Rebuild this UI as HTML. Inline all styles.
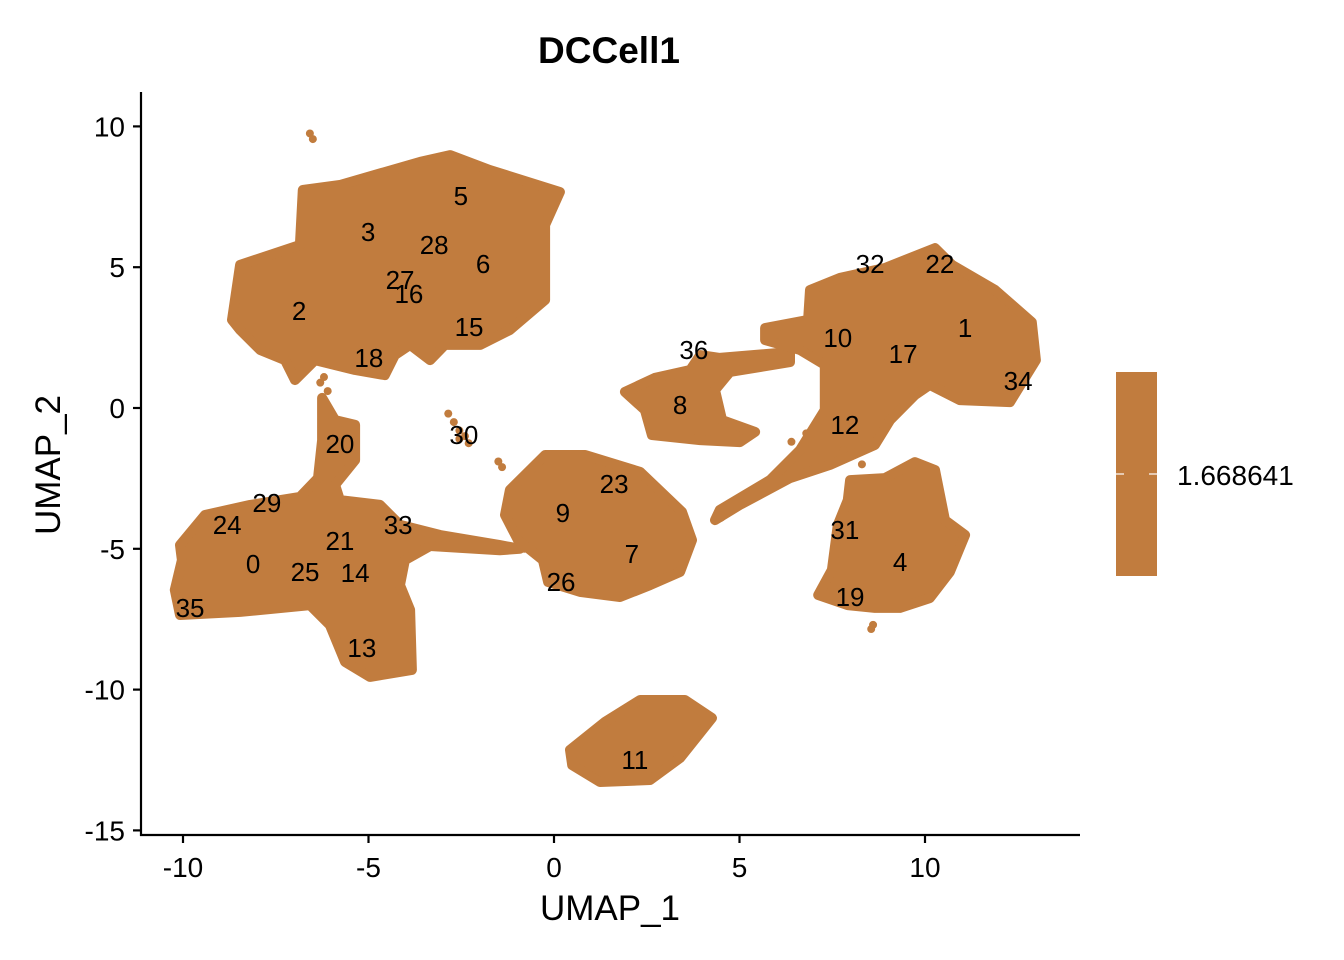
<!DOCTYPE html>
<html><head><meta charset="utf-8"><style>
html,body{margin:0;padding:0;background:#fff;width:1344px;height:960px;overflow:hidden}
svg{display:block;font-family:"Liberation Sans",Arial,sans-serif}
</style></head><body>
<svg id="chart" width="1344" height="960" viewBox="0 0 1344 960"></svg>
<script>
// ---- data ----
const xTicks = [-10, -5, 0, 5, 10];
const yTicks = [10, 5, 0, -5, -10, -15];
const clusterIds = ["5","3","28","6","27","16","2","15","18","20","30","29","24","21","33","0","25","14","35","13","23","9","7","26","11","36","8","32","22","1","10","17","34","12","31","4","19"];
const clusterX = [-2.51,-5.01,-3.23,-1.91,-4.15,-3.91,-6.87,-2.29,-4.99,-5.77,-2.43,-7.74,-8.81,-5.77,-4.20,-8.11,-6.71,-5.36,-9.81,-5.18,1.62,0.24,2.10,0.19,2.18,3.77,3.40,8.52,10.40,11.08,7.65,9.41,12.51,7.84,7.84,9.33,7.98];
const clusterY = [7.53,6.25,5.79,5.11,4.55,4.05,3.44,2.88,1.78,-1.28,-0.96,-3.37,-4.15,-4.72,-4.15,-5.54,-5.82,-5.86,-7.10,-8.52,-2.70,-3.73,-5.18,-6.18,-12.50,2.06,0.11,5.11,5.11,2.84,2.49,1.92,0.96,-0.60,-4.33,-5.47,-6.71];
// blob outlines (UMAP coordinates)
const blobTopLeftX = [-8.68,-8.46,-6.85,-6.77,-5.77,-3.61,-2.80,-1.73,0.16,-0.24,-0.24,-1.19,-1.99,-2.94,-3.34,-3.88,-4.29,-4.56,-5.36,-6.44,-6.98,-7.25,-7.92,-8.46];
const blobTopLeftY = [3.13,5.08,5.79,7.74,7.92,8.74,8.98,8.45,7.67,6.50,3.84,2.77,2.24,2.24,1.70,2.24,1.88,1.17,1.35,1.70,0.99,1.70,2.06,2.77];
const blobBottomLeftX = [-10.08,-9.41,-8.19,-6.85,-6.36,-6.25,-6.25,-5.90,-5.36,-5.36,-5.90,-5.77,-4.69,-4.15,-3.07,-1.46,-0.92,-1.46,-3.34,-4.02,-4.15,-3.88,-3.83,-4.96,-5.63,-6.04,-6.58,-8.46,-10.08,-10.22,-10.03];
const blobBottomLeftY = [-4.87,-3.80,-3.44,-3.16,-2.49,-1.14,0.36,-0.43,-0.60,-1.85,-2.73,-3.27,-3.44,-4.15,-4.51,-4.87,-5.00,-5.05,-4.90,-5.40,-6.29,-7.17,-9.30,-9.55,-9.02,-7.71,-7.00,-7.24,-7.35,-6.46,-5.40];
const blobCenterX = [-1.19,-0.24,0.84,2.32,3.45,3.72,3.40,2.59,1.78,0.70,-0.16,-0.30,-0.97,-1.32];
const blobCenterY = [-2.91,-1.67,-1.67,-2.27,-3.69,-4.69,-5.82,-6.29,-6.71,-6.53,-6.18,-5.40,-4.69,-3.80];
const blobBottomX = [0.43,1.37,2.32,3.53,4.26,3.40,2.59,1.24,0.49];
const blobBottomY = [-12.14,-11.15,-10.37,-10.37,-11.01,-12.43,-13.21,-13.28,-12.68];
const blobMidX = [1.91,2.72,3.67,3.94,4.47,6.36,6.36,4.74,4.34,4.53,5.42,5.01,3.94,2.64,2.45];
const blobMidY = [0.57,1.07,1.35,1.88,1.78,1.99,1.63,1.28,0.64,-0.43,-0.85,-1.21,-1.14,-0.96,-0.07];
const blobTopRightX = [6.90,7.71,8.92,10.27,10.73,11.89,12.88,12.99,12.29,10.94,10.13,9.73,9.06,8.65,7.44,6.36,5.01,4.34,4.47,5.82,6.63,7.30,7.30,6.63,5.69,5.69,6.85];
const blobTopRightY = [4.19,4.62,4.97,5.68,5.08,4.19,3.05,1.70,0.21,0.28,0.82,0.46,-0.43,-1.31,-2.02,-2.49,-3.44,-3.98,-3.62,-2.56,-1.49,-0.07,1.53,2.06,2.41,2.84,3.13];
const blobRightX = [7.98,8.92,9.73,10.27,10.54,11.08,10.67,10.13,9.33,8.65,7.92,7.12,7.49,7.65,7.92];
const blobRightY = [-2.56,-2.49,-1.92,-2.20,-3.98,-4.51,-5.82,-6.75,-7.10,-7.10,-7.00,-6.64,-5.75,-4.15,-3.27];
// isolated cells
const strayX = [-6.58,-6.50,-2.85,-2.70,-2.55,-2.40,-2.30,-2.55,-1.5,-1.4,-6.3,-6.1,8.6,8.55,4.5,6.4,6.8,7.8,8.3,-7.0,-6.2,-0.8];
const strayY = [9.75,9.55,-0.2,-0.5,-0.8,-1.0,-1.25,-1.1,-1.9,-2.1,0.9,0.6,-7.7,-7.85,-3.9,-1.2,-0.9,-1.5,-2.0,1.0,1.1,-5.0];

// ---- scales ----
const X = v => 554 + v * 37.1;
const Y = v => 408 - v * 28.16;
const NS = "http://www.w3.org/2000/svg";
const svg = document.getElementById("chart");
const COL = "#C17C3E";
function mk(tag, attrs, parent) {
  const e = document.createElementNS(NS, tag);
  for (const k in attrs) e.setAttribute(k, attrs[k]);
  (parent || svg).appendChild(e);
  return e;
}

// title
const title = mk("text", {x: 609, y: 63, "text-anchor": "middle", "font-size": 37, "font-weight": "bold", fill: "#000"});
title.textContent = "DCCell1";



// blobs
const gBlobs = mk("g", {});


const blobs = [
  ["blob-top-left", blobTopLeftX, blobTopLeftY],
  ["blob-bottom-left", blobBottomLeftX, blobBottomLeftY],
  ["blob-center", blobCenterX, blobCenterY],
  ["blob-bottom", blobBottomX, blobBottomY],
  ["blob-mid", blobMidX, blobMidY],
  ["blob-top-right", blobTopRightX, blobTopRightY],
  ["blob-right", blobRightX, blobRightY]
];
blobs.forEach(b => {
  const pts = b[1].map((v, i) => X(v).toFixed(1) + "," + Y(b[2][i]).toFixed(1)).join(" ");
  const p = mk("polygon", {points: pts, fill: COL, stroke: COL, "stroke-width": 10, "stroke-linejoin": "round"}, gBlobs);
  
  
});
strayX.forEach((v, i) => {
  const c = mk("circle", {cx: X(v), cy: Y(strayY[i]), r: 4, fill: COL}, gBlobs);
  
  
});

// cluster labels
clusterIds.forEach((id, i) => {
  const t = mk("text", {x: X(clusterX[i]), y: Y(clusterY[i]) + 9, "text-anchor": "middle", "font-size": 26, fill: "#000"});
  t.textContent = id;
  
  
});

// axes
const axX = mk("line", {x1: 140, y1: 835, x2: 1080, y2: 835, stroke: "#000", "stroke-width": 2.2});


const axY = mk("line", {x1: 141, y1: 92, x2: 141, y2: 836, stroke: "#000", "stroke-width": 2.2});


xTicks.forEach(v => {
  const l = mk("line", {x1: X(v), y1: 835, x2: X(v), y2: 843, stroke: "#000", "stroke-width": 2.2});
  
  
  const t = mk("text", {x: X(v), y: 877, "text-anchor": "middle", "font-size": 28, fill: "#000"});
  t.textContent = v;
  
  
});
yTicks.forEach(v => {
  const l = mk("line", {x1: 133, y1: Y(v), x2: 141, y2: Y(v), stroke: "#000", "stroke-width": 2.2});
  
  
  const t = mk("text", {x: 125, y: Y(v) + 10, "text-anchor": "end", "font-size": 28, fill: "#000"});
  t.textContent = v;
  
  
});
const xt = mk("text", {x: 610, y: 920, "text-anchor": "middle", "font-size": 35, fill: "#000"});
xt.textContent = "UMAP_1";


const yt = mk("text", {x: 60, y: 465, "text-anchor": "middle", "font-size": 35, fill: "#000", transform: "rotate(-90 60 465)"});
yt.textContent = "UMAP_2";



// legend
const lg = mk("g", {});


const lr = mk("rect", {x: 1116, y: 372, width: 41, height: 204, fill: COL}, lg);


mk("line", {x1: 1116, y1: 474, x2: 1124, y2: 474, stroke: "#fff", "stroke-width": 1.2}, lg);
mk("line", {x1: 1149, y1: 474, x2: 1157, y2: 474, stroke: "#fff", "stroke-width": 1.2}, lg);
const ll = mk("text", {x: 1177, y: 485, "font-size": 28, fill: "#000"}, lg);
ll.textContent = "1.668641";


</script>
</body></html>
